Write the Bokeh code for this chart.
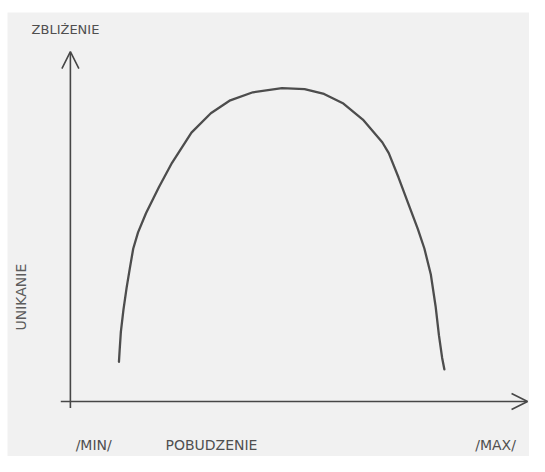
import numpy as np
from bokeh.plotting import figure
from bokeh.models import Range1d, Arrow, OpenHead
from bokeh.core.properties import value
from bokeh.embed import file_html
from bokeh.resources import INLINE

# Inverted-U curve: arousal (x) vs approach (y); axes span 0..10
arousal = [1.062, 1.076, 1.104, 1.161, 1.231, 1.301, 1.374, 1.480, 1.656, 1.938,
           2.223, 2.648, 3.072, 3.497, 3.992, 4.628, 5.123, 5.548, 5.972, 6.397,
           6.822, 6.964, 7.176, 7.389, 7.601, 7.743, 7.883, 7.989, 8.062, 8.132, 8.180]
approach = [1.133, 1.436, 1.989, 2.624, 3.260, 3.812, 4.365, 4.834, 5.387, 6.133,
            6.823, 7.688, 8.240, 8.610, 8.840, 8.959, 8.931, 8.793, 8.517, 8.058,
            7.412, 7.099, 6.409, 5.663, 4.925, 4.373, 3.638, 2.715, 1.887, 1.243, 0.920]

x_label = "POBUDZENIE"
x_min_label = "/MIN/"
x_max_label = "/MAX/"
y_top_label = "ZBLIŻENIE"
y_bottom_label = "UNIKANIE"

AXIS_MAX = 10.0

ink = "#474747"
text_ink = "#4f4f4f"
paper = "#f1f1f1"
font = value("DejaVu Sans")

p = figure(width=529, height=456, output_backend="svg", toolbar_location=None,
           x_range=Range1d(-1.3756, 10.0425), y_range=Range1d(-1.5746, 11.121),
           min_border_left=7, min_border_top=12, min_border_right=0,
           min_border_bottom=0)
p.axis.visible = False
p.grid.visible = False
p.outline_line_color = None
p.background_fill_color = paper
p.border_fill_color = "white"

# hand-drawn axes with open arrowheads
p.add_layout(Arrow(x_start=0, y_start=-0.19, x_end=0, y_end=AXIS_MAX,
                   line_color=ink, line_width=1.6,
                   end=OpenHead(size=17, line_color=ink, line_width=1.6)))
p.add_layout(Arrow(x_start=-0.21, y_start=0, x_end=AXIS_MAX, y_end=0,
                   line_color=ink, line_width=1.6,
                   end=OpenHead(size=16, line_color=ink, line_width=1.6)))

p.line(arousal, approach, line_color="#4d4d4d", line_width=2.3,
       line_join="round", line_cap="round")

p.text(x=[-0.849], y=[10.635], text=[y_top_label], text_font=font,
       text_font_size="13px", text_color=text_ink,
       text_align="left", text_baseline="middle")
p.text(x=[-1.083], y=[2.983], text=[y_bottom_label], text_font=font,
       text_font_size="14px", text_color="#5c5c5c", angle=np.pi / 2,
       text_align="center", text_baseline="middle")
p.text(x=[0.51], y=[-1.243], text=[x_min_label], text_font=font,
       text_font_size="14px", text_color=text_ink,
       text_align="center", text_baseline="middle")
p.text(x=[2.08], y=[-1.243], text=[x_label], text_font=font,
       text_font_size="14px", text_color=text_ink,
       text_align="left", text_baseline="middle")
p.text(x=[9.30], y=[-1.243], text=[x_max_label], text_font=font,
       text_font_size="14px", text_color=text_ink,
       text_align="center", text_baseline="middle")

open("out.html", "w").write(file_html(p, INLINE))
